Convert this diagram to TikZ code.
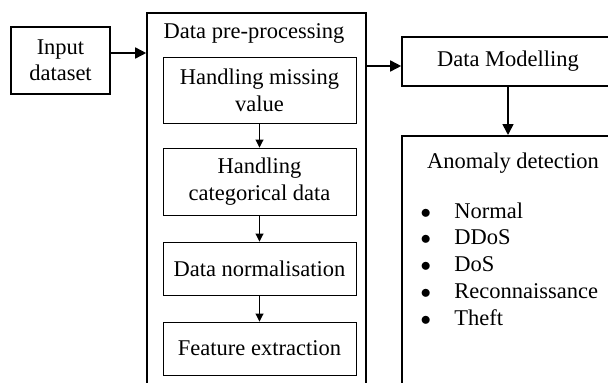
\documentclass[tikz,border=0pt]{standalone}
\usepackage{fontspec}
\setmainfont{Liberation Serif}
\usetikzlibrary{arrows.meta}
\begin{document}
\begin{tikzpicture}[x=1pt,y=-1pt,
  font=\fontsize{22.5}{27}\selectfont,
  outerbox/.style={draw, line width=1.6pt, rectangle, inner sep=0pt, align=center},
  innerbox/.style={draw, line width=0.9pt, rectangle, inner sep=0pt, align=center, minimum width=193pt},
  bigarrow/.style={line width=1.6pt, -{Triangle[length=11pt,width=11pt]}},
  smallarrow/.style={line width=0.9pt, -{Triangle[length=8pt,width=8pt]}},
  plain/.style={inner sep=0pt, align=center}]
\useasboundingbox (0,0) rectangle (608,383);
\clip (0,0) rectangle (608,383);
\fill[white] (0,0) rectangle (608,383);
% Input
\node[outerbox, minimum width=99pt, minimum height=67pt] (input) at (60.5,60.5) {Input\\[-1pt]dataset};
% Pre-processing container
\node[outerbox, minimum width=219pt, minimum height=387pt] (pre) at (256.5,206.5) {};
\node[plain] (pretitle) at (254,33) {Data pre-processing};
\node[innerbox, minimum height=66pt] (b1) at (259.5,90) {Handling missing\\value};
\node[innerbox, minimum height=67pt] (b2) at (259.5,181.5) {Handling\\categorical data};
\node[innerbox, minimum height=53pt] (b3) at (259.5,268.5) {Data normalisation};
\node[innerbox, minimum height=53pt] (b4) at (259.5,348.5) {Feature extraction};
\draw[smallarrow] (b1.south) -- (b2.north);
\draw[smallarrow] (b2.south) -- (b3.north);
\draw[smallarrow] (b3.south) -- (b4.north);
% Modelling
\node[outerbox, minimum width=212pt, minimum height=49pt] (model) at (508,61.5) {Data Modelling};
% Anomaly
\node[outerbox, minimum width=224pt, minimum height=280pt, anchor=north west] (anom) at (401,135) {};
\node[plain] (anomtitle) at (513,163) {Anomaly detection};
\node[plain, anchor=base west] (list) at (420.5,218) {%
  \begin{tabular}[t]{@{}l@{\hspace{23.3pt}}l@{}}
  $\bullet$ & Normal\\[-0.25pt]
  $\bullet$ & DDoS\\[-0.25pt]
  $\bullet$ & DoS\\[-0.25pt]
  $\bullet$ & Reconnaissance\\[-0.25pt]
  $\bullet$ & Theft
  \end{tabular}};
% Arrows
\draw[bigarrow] ([yshift=7.5pt]input.east) -- ([yshift=7.5pt]input.east -| pre.west);
\draw[bigarrow] ([yshift=-4.5pt]model.west -| pre.east) -- ([yshift=-4.5pt]model.west);
\draw[bigarrow] (model.south) -- (model.south |- anom.north);
\end{tikzpicture}
\end{document}
